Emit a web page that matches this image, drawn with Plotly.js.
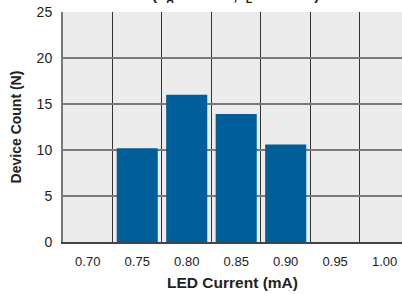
<!DOCTYPE html>
<html><head><meta charset="utf-8">
<script src="https://cdn.plot.ly/plotly-3.0.1.min.js"></script>
<style>html,body{margin:0;padding:0;background:#fff;}#c{width:402px;height:294px;}</style>
</head><body><div id="c"></div>
<script>
var categories = ["0.70","0.75","0.80","0.85","0.90","0.95","1.00"];
var deviceCount = [0, 10.2, 16.0, 13.9, 10.6, 0, 0];
var yTicks = [0, 5, 10, 15, 20, 25];
var titleText = "(T<sub>A</sub> = +25°C, I<sub>L</sub> = 10 mA)";

var trace = {
  type: "bar", x: categories, y: deviceCount,
  marker: {color: "#005f99", line: {width: 0}},
  width: 0.83, hoverinfo: "skip"
};
var layout = {
  width: 402, height: 294,
  margin: {l: 63, r: 0, t: 12, b: 52},
  paper_bgcolor: "#ffffff", plot_bgcolor: "#ececec",
  font: {family: "Liberation Sans, Arial, sans-serif", size: 13, color: "#222"},
  showlegend: false,
  xaxis: {
    type: "category", range: [-0.5, 6.35], tickson: "boundaries",
    showgrid: true, gridcolor: "#333333", gridwidth: 1,
    ticks: "", zeroline: false, ticklabelstandoff: 6,
    showline: true, linecolor: "#444444", linewidth: 2,
    tickfont: {size: 13, color: "#222"},
    title: {text: "<b>LED Current (mA)</b>", font: {size: 15.5, color: "#222"}, standoff: 10},
    fixedrange: true
  },
  yaxis: {
    range: [0, 25], tickvals: yTicks, ticktext: yTicks.map(String),
    showgrid: true, gridcolor: "#7a7a7a", gridwidth: 2,
    zeroline: false, ticks: "", ticklabelstandoff: 6,
    showline: true, linecolor: "#777777", linewidth: 2,
    tickfont: {size: 14, color: "#222"},
    title: {text: "<b>Device Count (N)</b>", font: {size: 14, color: "#222"}, standoff: 12},
    fixedrange: true
  },
  annotations: [{
    text: "<b>" + titleText + "</b>", xref: "paper", yref: "paper",
    x: 0.51, y: 1.022, xanchor: "center", yanchor: "bottom", showarrow: false,
    font: {size: 15, color: "#222"}
  }]
};
Plotly.newPlot("c", [trace], layout, {staticPlot: true, displayModeBar: false});
</script></body></html>
